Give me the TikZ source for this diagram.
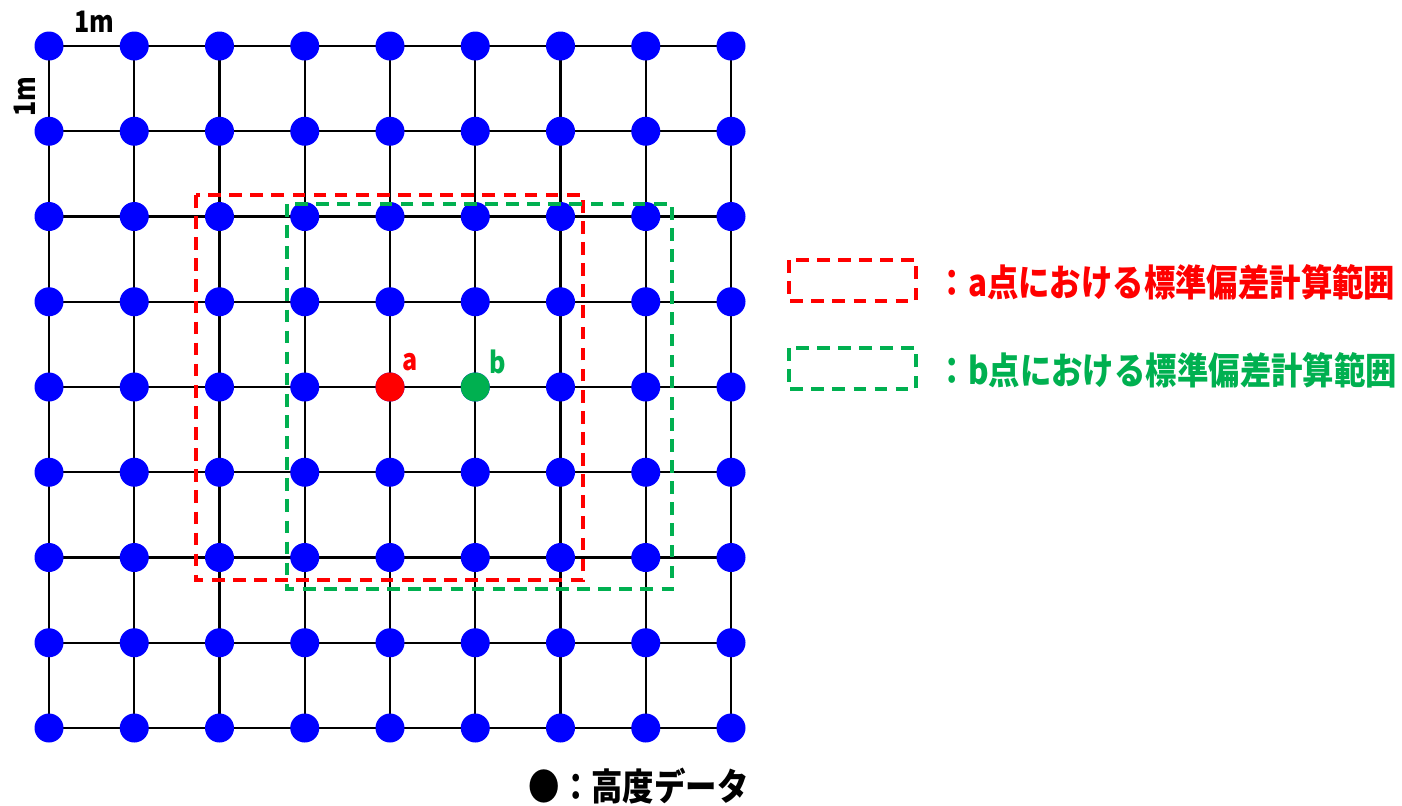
\documentclass[tikz,border=0pt]{standalone}
\usepackage{fontspec}
\newfontfamily\jp{Noto Sans CJK JP}
\definecolor{dgreen}{HTML}{00B050}
\definecolor{dblue}{HTML}{0000FF}
\definecolor{dred}{HTML}{FF0000}
\newcommand{\tall}[1]{\scalebox{0.95}[1.12]{#1}}
\tikzset{
  dot/.style={circle,fill=dblue,minimum size=29*0.01cm,inner sep=0pt},
  gridline/.style={line width=0.7pt,black},
  rangebox/.style={line width=1pt,dash pattern=on 3.6pt off 2.4pt},
  lbl/.style={font=\jp\bfseries\fontsize{9.4pt}{11pt}\selectfont,inner sep=0pt,anchor=west},
  small/.style={font=\jp\bfseries\fontsize{7.5pt}{9pt}\selectfont,inner sep=0pt}
}
\begin{document}
\begin{tikzpicture}[x=0.01cm,y=-0.01cm]
\useasboundingbox (0,0) rectangle (1402,805);
\foreach \i in {0,...,8}{
  \foreach \j in {0,...,8}{
    \coordinate (c\i-\j) at ({49+85.25*\i},{46+85.25*\j});
  }
}
\foreach \k in {0,...,8}{
  \draw[gridline] (c0-\k) -- (c8-\k);
  \draw[gridline] (c\k-0) -- (c\k-8);
}
\foreach \i in {0,...,8}{
  \foreach \j in {0,...,8}{
    \node[dot] (p\i-\j) at (c\i-\j) {};
  }
}
\node[dot,fill=dred] (a) at (c4-4) {};
\node[dot,fill=dgreen] (b) at (c5-4) {};
\node[small,text=dred] (la) at (410,362) {\tall{a}};
\node[small,text=dgreen] (lb) at (498,362) {\tall{b}};
\node[small] (m1) at (94,22) {\tall{1m}};
\node[small,rotate=90] (m2) at (25,97) {\tall{1m}};
\draw[rangebox,dred] (196,195) rectangle (583,580);
\draw[rangebox,dgreen] (287,204) rectangle (672,589);
\draw[rangebox,dred] (789,260) rectangle (916,301);
\draw[rangebox,dgreen] (789,348) rectangle (916,389);
\node[lbl,text=dred] (ta) at (936,282) {\tall{：a点における標準偏差計算範囲}};
\node[lbl,text=dgreen] (tb) at (936,370) {\tall{：b点における標準偏差計算範囲}};
\node[lbl] (tk) at (528,786) {\tall{●：高度データ}};
\end{tikzpicture}
\end{document}
